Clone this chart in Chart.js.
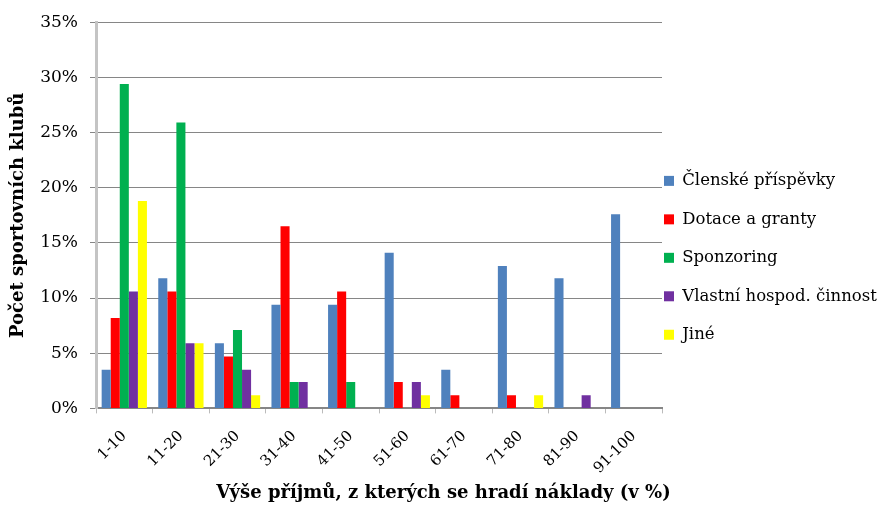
<!DOCTYPE html>
<html>
<head>
<meta charset="utf-8">
<script src="https://cdn.jsdelivr.net/npm/chart.js@4"></script>
<style>
  body { margin: 0; background: #fff; }
  #wrap { width: 879px; height: 506px; }
</style>
</head>
<body>
<div id="wrap"><canvas id="one"></canvas></div>
<script>
// categories on the x axis
const categories = ['1-10', '11-20', '21-30', '31-40', '41-50', '51-60', '61-70', '71-80', '81-90', '91-100'];

// series values in percent
const clenske    = [3.5, 11.8, 5.9, 9.4, 9.4, 14.1, 3.5, 12.9, 11.8, 17.6];
const dotace     = [8.2, 10.6, 4.7, 16.5, 10.6, 2.4, 1.2, 1.2, 0, 0];
const sponzoring = [29.4, 25.9, 7.1, 2.4, 2.4, 0, 0, 0, 0, 0];
const vlastni    = [10.6, 5.9, 3.5, 2.4, 0, 2.4, 0, 0, 1.2, 0];
const jine       = [18.8, 5.9, 1.2, 0, 0, 1.2, 0, 1.2, 0, 0];

// y tick labels
const yTicks = [0, 5, 10, 15, 20, 25, 30, 35];

const one = document.getElementById('one');
const serif = '"DejaVu Serif", "Liberation Serif", serif';

new Chart(one, {
  type: 'bar',
  data: {
    labels: categories,
    datasets: [
      { label: 'Členské příspěvky', data: clenske, backgroundColor: '#4F81BD' },
      { label: 'Dotace a granty', data: dotace, backgroundColor: '#FF0000' },
      { label: 'Sponzoring', data: sponzoring, backgroundColor: '#00B050' },
      { label: 'Vlastní hospod. činnost', data: vlastni, backgroundColor: '#7030A0' },
      { label: 'Jiné', data: jine, backgroundColor: '#FFFF00' }
    ]
  },
  options: {
    responsive: true,
    maintainAspectRatio: false,
    animation: false,
    layout: { padding: { left: 8, right: 0, top: 20, bottom: 0 } },
    datasets: { bar: { categoryPercentage: 0.8, barPercentage: 1.0 } },
    scales: {
      x: {
        afterFit: function(scale) { scale.height = 72; },
        grid: { drawOnChartArea: false, drawTicks: true, tickLength: 5, color: '#bbbbbb', offset: true },
        border: { color: '#868686', width: 2 },
        ticks: { color: '#000', padding: 14, maxRotation: 45, minRotation: 45, font: { family: serif, size: 15 } }
      },
      y: {
        min: 0,
        max: 35,
        afterBuildTicks: function(scale) { scale.ticks = yTicks.map(v => ({ value: v })); },
        afterFit: function(scale) { scale.width = 88; },
        grid: { color: '#868686', tickLength: 6 },
        border: { color: '#c4c4c4', width: 3 },
        ticks: { color: '#000', padding: 12, font: { family: serif, size: 17 }, callback: v => v + '%' },
        title: { display: true, text: 'Počet sportovních klubů', color: '#000', padding: 0, font: { family: serif, size: 18, weight: 'bold' } }
      }
    },
    plugins: {
      legend: {
        position: 'right',
        maxWidth: 217,
        title: { display: true, text: '', padding: 0, font: { size: 8 } },
        labels: {
          boxWidth: 10,
          boxHeight: 10,
          padding: 2,
          color: '#000',
          font: { family: serif, size: 16.5, lineHeight: 2.21 },
          // one-line arrays so every row takes the font lineHeight
          generateLabels: function(chart) {
            return Chart.defaults.plugins.legend.labels.generateLabels(chart).map(function(item) {
              item.text = [item.text];
              item.lineWidth = 0;
              return item;
            });
          }
        }
      },
      title: {
        display: true,
        position: 'bottom',
        text: 'Výše příjmů, z kterých se hradí náklady (v %)',
        color: '#000',
        padding: { top: 2, bottom: 2 },
        font: { family: serif, size: 18, weight: 'bold' }
      },
      tooltip: { enabled: false }
    }
  }
});
</script>
</body>
</html>
